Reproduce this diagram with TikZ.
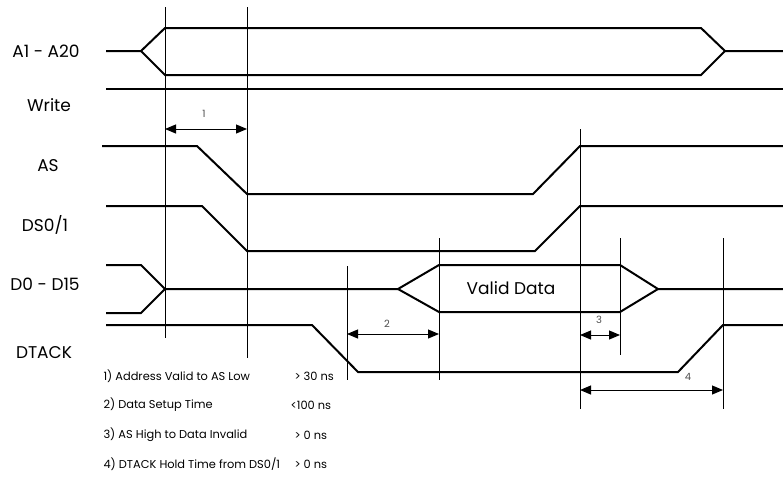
\documentclass[tikz,border=0pt]{standalone}
\usepackage{fontspec}
\setmainfont{Poppins}
\usetikzlibrary{arrows.meta}

\begin{document}
\begin{tikzpicture}[
    x=1pt, y=-1pt,
    sig/.style={line width=2pt, line join=miter},
    guide/.style={line width=0.9pt},
    dim/.style={{Triangle[length=11pt,width=9pt]}-{Triangle[length=11pt,width=9pt]}, line width=1pt},
    lbl/.style={font=\fontsize{17}{19}\selectfont},
    num/.style={font=\fontsize{10}{11}\selectfont, text=black!70},
    note/.style={font=\fontsize{11.4}{12}\selectfont, anchor=west}
  ]
    \useasboundingbox (0,0) rectangle (783,477);

    % Signal names
    \node[lbl] (nA) at (46,51) {A1 - A20};
    \node[lbl] (nW) at (49,105) {Write};
    \node[lbl] (nAS) at (48,166) {AS};
    \node[lbl] (nDS) at (45,225) {DS0/1};
    \node[lbl] (nD) at (45,284) {D0 - D15};
    \node[lbl] (nDT) at (44,353) {DTACK};

    % Guide lines
    \draw[guide] (165,7) -- (165,338);
    \draw[guide] (247,7) -- (247,358);
    \draw[guide] (347,266) -- (347,380);
    \draw[guide] (439,238) -- (439,380);
    \draw[guide] (580,129) -- (580,409);
    \draw[guide] (620,238) -- (620,355);
    \draw[guide] (723,238) -- (723,409);

    % Waveforms
    \draw[sig] (106,51) -- (141,51) -- (165,28) -- (701,28) -- (725,51) -- (783,51);
    \draw[sig] (141,51) -- (165,75) -- (701,75) -- (725,51);
    \draw[sig] (106,89) -- (783,89);
    \draw[sig] (102,146) -- (197,146) -- (247,194) -- (533,194) -- (580,146) -- (783,146);
    \draw[sig] (106,206) -- (202,206) -- (247,251) -- (535,251) -- (580,206) -- (783,206);
    \draw[sig] (106,265) -- (141,265) -- (165,289) -- (141,313) -- (106,313);
    \draw[sig] (165,289) -- (398,289) -- (439,265) -- (620,265) -- (658,289) -- (783,289);
    \draw[sig] (398,289) -- (439,312) -- (620,312) -- (658,289);
    \draw[sig] (106,325) -- (312,325) -- (358,372) -- (678,372) -- (723,325) -- (783,325);
    \node[lbl] (vd) at (511,288) {Valid Data};

    % Timing marks
    \coordinate (d1a) at (165,129);
    \coordinate (d1b) at (247,129);
    \coordinate (d2a) at (347,334);
    \coordinate (d2b) at (439,334);
    \coordinate (d3a) at (580,335);
    \coordinate (d3b) at (620,335);
    \coordinate (d4a) at (580,390);
    \coordinate (d4b) at (723,390);
    \draw[dim] (d1a) -- (d1b);
    \draw[dim] (d2a) -- (d2b);
    \draw[dim] (d3a) -- (d3b);
    \draw[dim] (d4a) -- (d4b);
    \node[num] (t1) at (204,114) {1};
    \node[num] (t2) at (387,324) {2};
    \node[num] (t3) at (599,320) {3};
    \node[num] (t4) at (688,377) {4};

    % Notes
    \node[note] (r1) at (100,376) {1) Address Valid to AS Low};
    \node[note] (r2) at (100,405) {2) Data Setup Time};
    \node[note] (r3) at (100,435) {3) AS High to Data Invalid};
    \node[note] (r4) at (100,464) {4) DTACK Hold Time from DS0/1};
    \node[note] (v1) at (291,376) {> 30 ns};
    \node[note] (v2) at (287,405) {<100 ns};
    \node[note] (v3) at (291,435) {> 0 ns};
    \node[note] (v4) at (291,464) {> 0 ns};
\end{tikzpicture}
\end{document}
